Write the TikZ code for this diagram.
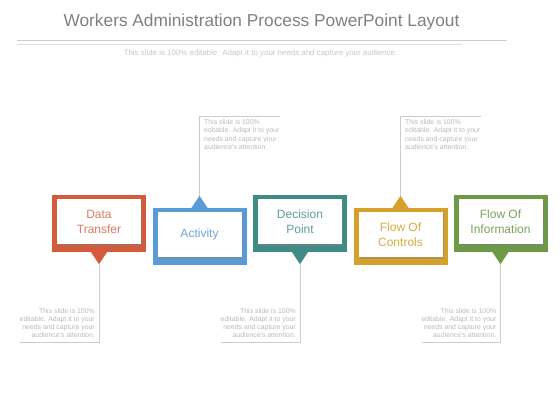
\documentclass[tikz,border=0pt]{standalone}
\usepackage{fontspec}
\setmainfont{Liberation Sans}
\usetikzlibrary{calc,shadows}
\definecolor{dtcol}{HTML}{D35A3B}
\definecolor{accol}{HTML}{5B9BD5}
\definecolor{dpcol}{HTML}{3F8C87}
\definecolor{fccol}{HTML}{D4A12D}
\definecolor{ficol}{HTML}{6C9A47}
\definecolor{headgray}{HTML}{808080}
\tikzset{
	outerbox/.style={rectangle, minimum width=94pt, minimum height=57pt, inner sep=0pt},
	innerbox/.style={rectangle, fill=white, minimum width=84pt, minimum height=45pt, inner sep=0pt, align=center,
		font=\fontsize{12}{15}\selectfont, drop shadow={shadow xshift=1pt, shadow yshift=-1.5pt, opacity=0.45}},
	callout/.style={draw=gray!40, line width=0.6pt},
	note/.style={inner sep=0pt, text=gray!55, font=\fontsize{6.9}{8.3}\selectfont}
}
\begin{document}
\begin{tikzpicture}[x=1pt,y=-1pt]
\useasboundingbox (0,0) rectangle (560,420);
% heading
\node[text=headgray, font=\fontsize{17.3}{20}\selectfont](title) at (261.5,22){Workers Administration Process PowerPoint Layout};
\draw[gray!40, line width=0.6pt](17,40.5)--(507,40.5);
\draw[gray!25, line width=0.6pt](17,44)--(462,44);
\node[text=gray!45, font=\fontsize{7.9}{9}\selectfont](sub) at (260.5,53){This slide is 100\% editable. Adapt it to your needs and capture your audience.};
% data transfer
\node[outerbox, fill=dtcol](dt) at (99,223.5){};
\node[innerbox, text=dtcol!80](dtin) at ($(dt)+(0,-2)$){Data\\Transfer};
\coordinate(dt-tip) at ($(dt.south)+(0,12)$);
\fill[dtcol]($(dt.south)+(-8,0)$)--($(dt.south)+(8,0)$)--(dt-tip)--cycle;
\coordinate(dt-c) at ($(dt-tip)+(0,78)$);
\draw[callout](dt-tip)--(dt-c)--++(-79,0);
\node[note, anchor=south east, align=right](dt-txt) at ($(dt-c)+(-4,-4)$){This slide is 100\%\\editable. Adapt it to your\\needs and capture your\\audience's attention.};
% activity
\node[outerbox, fill=accol](ac) at (199.5,236.5){};
\node[innerbox, text=accol!90](acin) at ($(ac)+(0,-2)$){Activity};
\coordinate(ac-tip) at ($(ac.north)+(0,-12)$);
\fill[accol]($(ac.north)+(-8,0)$)--($(ac.north)+(8,0)$)--(ac-tip)--cycle;
\coordinate(ac-c) at ($(ac-tip)+(0,-80)$);
\draw[callout](ac-tip)--(ac-c)--++(80,0);
\node[note, anchor=north west, align=left](ac-txt) at ($(ac-c)+(4.5,3.5)$){This slide is 100\%\\editable. Adapt it to your\\needs and capture your\\audience's attention.};
% decision point
\node[outerbox, fill=dpcol](dp) at (300,223.5){};
\node[innerbox, text=dpcol!85](dpin) at ($(dp)+(0,-2)$){Decision\\Point};
\coordinate(dp-tip) at ($(dp.south)+(0,12)$);
\fill[dpcol]($(dp.south)+(-8,0)$)--($(dp.south)+(8,0)$)--(dp-tip)--cycle;
\coordinate(dp-c) at ($(dp-tip)+(0,78)$);
\draw[callout](dp-tip)--(dp-c)--++(-79,0);
\node[note, anchor=south east, align=right](dp-txt) at ($(dp-c)+(-4,-4)$){This slide is 100\%\\editable. Adapt it to your\\needs and capture your\\audience's attention.};
% flow of controls
\node[outerbox, fill=fccol](fc) at (400.5,236.5){};
\node[innerbox, text=fccol!90](fcin) at ($(fc)+(0,-2)$){Flow Of\\Controls};
\coordinate(fc-tip) at ($(fc.north)+(0,-12)$);
\fill[fccol]($(fc.north)+(-8,0)$)--($(fc.north)+(8,0)$)--(fc-tip)--cycle;
\coordinate(fc-c) at ($(fc-tip)+(0,-80)$);
\draw[callout](fc-tip)--(fc-c)--++(80,0);
\node[note, anchor=north west, align=left](fc-txt) at ($(fc-c)+(4.5,3.5)$){This slide is 100\%\\editable. Adapt it to your\\needs and capture your\\audience's attention.};
% flow of information
\node[outerbox, fill=ficol](fi) at (500.5,223.5){};
\node[innerbox, text=ficol!90](fiin) at ($(fi)+(0,-2)$){Flow Of\\Information};
\coordinate(fi-tip) at ($(fi.south)+(0,12)$);
\fill[ficol]($(fi.south)+(-8,0)$)--($(fi.south)+(8,0)$)--(fi-tip)--cycle;
\coordinate(fi-c) at ($(fi-tip)+(0,78)$);
\draw[callout](fi-tip)--(fi-c)--++(-79,0);
\node[note, anchor=south east, align=right](fi-txt) at ($(fi-c)+(-4,-4)$){This slide is 100\%\\editable. Adapt it to your\\needs and capture your\\audience's attention.};
\end{tikzpicture}
\end{document}
